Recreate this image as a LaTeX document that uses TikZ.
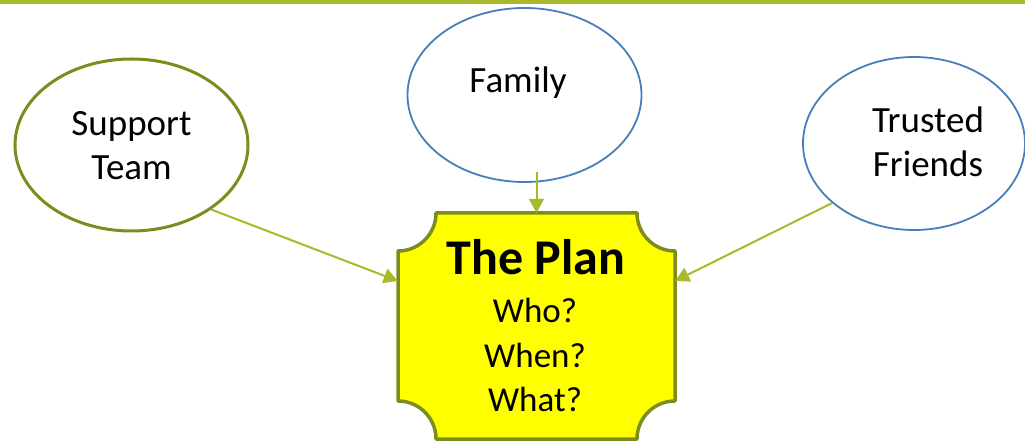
\documentclass[tikz,border=0pt]{standalone}
\usepackage{fontspec}
\setmainfont{Carlito}
\usetikzlibrary{shapes.geometric,arrows.meta}
\definecolor{bargreen}{HTML}{A8B92A}
\definecolor{olive}{HTML}{7D8C1E}
\definecolor{ellblue}{HTML}{4A7EBB}
\definecolor{planyellow}{HTML}{FFFF00}
\tikzset{
  ovalolive/.style={draw=olive,line width=3pt,ellipse,inner sep=0pt},
  ovalblue/.style={draw=ellblue,line width=1.8pt,ellipse,inner sep=0pt},
  lbl/.style={anchor=base,inner sep=0pt,font=\fontsize{37}{44}\selectfont},
  plantxt/.style={anchor=base,inner sep=0pt,font=\fontsize{35}{42}\selectfont},
  conn/.style={draw=bargreen,line width=2pt,-{Triangle[length=14pt,width=15pt]}},
}
\begin{document}
\begin{tikzpicture}[x=1pt,y=-1pt]
\useasboundingbox (0,0) rectangle (1025,443);
\fill[bargreen] (0,0) rectangle (1025,4);
% ellipses
\node[ovalolive,minimum width=233pt,minimum height=172pt] (st) at (131.5,145) {};
\node[ovalblue,minimum width=234pt,minimum height=174pt] (fam) at (524.5,95) {};
\node[ovalblue,minimum width=222pt,minimum height=173pt] (tf) at (914,143.5) {};
\node[lbl] (st1) at (131.5,136) {Support};
\node[lbl] (st2) at (131.5,180) {Team};
\node[lbl] (fam1) at (518,93) {Family};
\node[lbl] (tf1) at (928,133) {Trusted};
\node[lbl] (tf2) at (928,177) {Friends};
% plan shape
\node[minimum width=277pt,minimum height=226pt,inner sep=0pt] (plan) at (536.5,326) {};
\draw[olive,fill=planyellow,line width=3.5pt,line join=round]
  (436,213) -- (637,213) arc[start angle=180,end angle=90,radius=38]
  -- (675,401) arc[start angle=270,end angle=180,radius=38]
  -- (436,439) arc[start angle=0,end angle=-90,radius=38]
  -- (398,251) arc[start angle=90,end angle=0,radius=38] -- cycle;
\node[anchor=base,inner sep=0pt,font=\fontsize{50}{60}\selectfont\bfseries] (pt) at (536,275) {The Plan};
\node[plantxt] (p1) at (535,323) {Who?};
\node[plantxt] (p2) at (535,367) {When?};
\node[plantxt] (p3) at (535,411) {What?};
% connectors
\draw[conn] (st.-39.7) -- (plan.162.4);
\draw[conn] (tf.216) -- (plan.18.4);
\draw[conn] ([yshift=11pt]plan.north |- fam.south) -- (plan.north);
\end{tikzpicture}
\end{document}
